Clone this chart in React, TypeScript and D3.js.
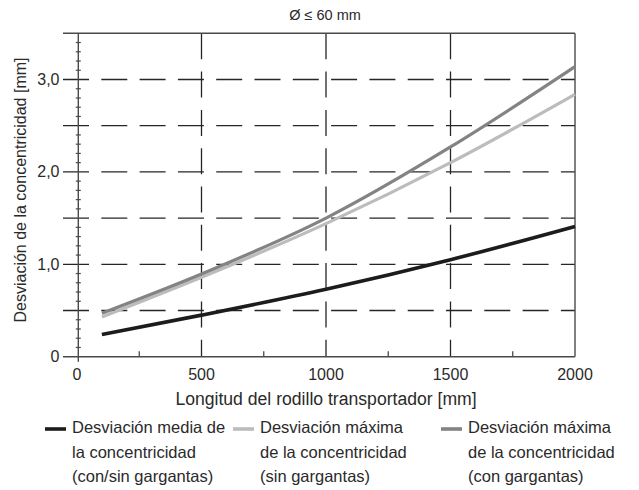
import React from "react";
import * as d3 from "d3";

const lengths = [100, 500, 1000, 1500, 2000];
const meanDev = [0.24, 0.45, 0.73, 1.05, 1.41];
const maxDevNoGroove = [0.43, 0.86, 1.44, 2.1, 2.84];
const maxDevGroove = [0.47, 0.895, 1.5, 2.27, 3.14];

const xTickLabels = [0, 500, 1000, 1500, 2000];
const xMinorTicks = [250, 750, 1250, 1750];
const yMajor = [0.5, 1, 1.5, 2, 2.5, 3];
const yLabels = [0, 1, 2, 3];

const title = "Ø ≤ 60 mm";
const xTitle = "Longitud del rodillo transportador [mm]";
const yTitle = "Desviación de la concentricidad [mm]";

const series = [
  { name: ["Desviación media de", "la concentricidad", "(con/sin gargantas)"], values: meanDev, color: "#1c1c1c", width: 3.6 },
  { name: ["Desviación máxima", "de la concentricidad", "(sin gargantas)"], values: maxDevNoGroove, color: "#bcbcbc", width: 3.2 },
  { name: ["Desviación máxima", "de la concentricidad", "(con gargantas)"], values: maxDevGroove, color: "#838383", width: 3.2 },
];

const legendX = [45, 233, 441];

export default function App() {
  const W = 639, H = 490;
  const x = d3.scaleLinear().domain([0, 2000]).range([77, 575]);
  const y = d3.scaleLinear().domain([0, 3.5]).range([356.7, 33.3]);
  const font = "'Liberation Sans', Arial, sans-serif";
  const frame = "#4a4a4a";
  const grid = "#262626";
  const txt = "#2a2a2a";
  const line = d3
    .line<[number, number]>()
    .x((d) => x(d[0]))
    .y((d) => y(d[1]))
    .curve(d3.curveMonotoneX);
  const minor = d3.range(1, 35).map((i) => i / 10).filter((v) => Math.abs(v * 2 - Math.round(v * 2)) > 1e-6);
  const leftTick = 63;

  return (
    <svg width={W} height={H} style={{ position: "absolute", left: 0, top: 0 }} fontFamily={font}>
      <rect width={W} height={H} fill="#fff" />
      <text x={325} y={20} fontSize={14.5} textAnchor="middle" fill={txt}>{title}</text>

      {/* horizontal dashed gridlines */}
      {yMajor.map((v) => (
        <line key={"h" + v} x1={leftTick} x2={x(2000)} y1={y(v)} y2={y(v)} stroke={grid} strokeWidth={1.3} strokeDasharray="26 12.3" />
      ))}
      {/* vertical dashed gridlines */}
      {[500, 1000, 1500].map((v) => (
        <line key={"v" + v} x1={x(v)} x2={x(v)} y1={y(3.5)} y2={y(0)} stroke={grid} strokeWidth={1.3} strokeDasharray="26 12.3" />
      ))}

      {/* frame */}
      <line x1={leftTick} x2={x(2000)} y1={y(3.5)} y2={y(3.5)} stroke={frame} strokeWidth={1.4} />
      <line x1={leftTick} x2={x(2000)} y1={y(0)} y2={y(0)} stroke={frame} strokeWidth={1.4} />
      <line x1={x(2000)} x2={x(2000)} y1={y(3.5)} y2={y(0)} stroke={frame} strokeWidth={1.4} />
      <line x1={78.3} x2={78.3} y1={y(3.5)} y2={y(0) + 5} stroke={frame} strokeWidth={1.4} />

      {/* minor ticks */}
      {minor.map((v) => (
        <line key={"my" + v} x1={75.8} x2={80.8} y1={y(v)} y2={y(v)} stroke={frame} strokeWidth={1.2} />
      ))}
      {xMinorTicks.map((v) => (
        <line key={"mx" + v} x1={x(v)} x2={x(v)} y1={y(0)} y2={y(0) - 5.5} stroke={frame} strokeWidth={1.3} />
      ))}

      {/* tick labels */}
      {yLabels.map((v) => (
        <text key={"yl" + v} x={59.5} y={y(v) + 5.5} fontSize={16} textAnchor="end" fill={txt}>
          {v === 0 ? "0" : d3.format(".1f")(v).replace(".", ",")}
        </text>
      ))}
      {xTickLabels.map((v) => (
        <text key={"xl" + v} x={x(v)} y={380} fontSize={16} textAnchor="middle" fill={txt}>{v}</text>
      ))}

      {/* axis titles */}
      <text x={326} y={405} fontSize={17.6} textAnchor="middle" fill={txt}>{xTitle}</text>
      <text transform={`translate(26,${190}) rotate(-90)`} fontSize={16} textAnchor="middle" fill={txt}>{yTitle}</text>

      {/* curves */}
      {series.map((s, i) => (
        <path
          key={"s" + i}
          d={line(lengths.map((l, j) => [l, s.values[j]] as [number, number])) || ""}
          fill="none"
          stroke={s.color}
          strokeWidth={s.width}
          strokeLinecap="butt"
        />
      ))}

      {/* legend */}
      {series.map((s, i) => (
        <g key={"lg" + i}>
          <line x1={legendX[i]} x2={legendX[i] + 21} y1={429} y2={429} stroke={s.color} strokeWidth={3.6} />
          {s.name.map((t, k) => (
            <text key={k} x={legendX[i] + 27} y={433 + k * 24.5} fontSize={16.5} fill={txt}>{t}</text>
          ))}
        </g>
      ))}
    </svg>
  );
}
